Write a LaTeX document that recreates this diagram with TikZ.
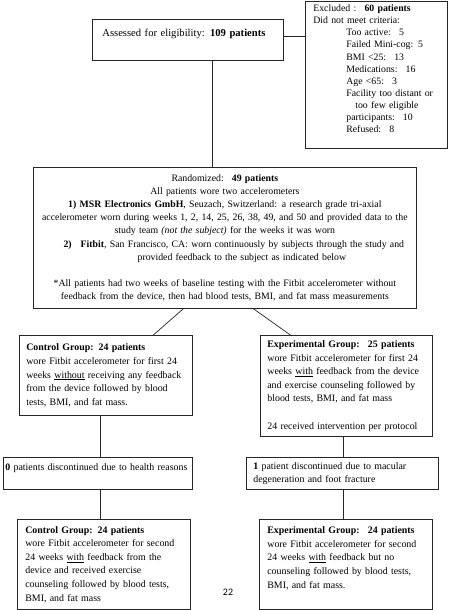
\documentclass[tikz,border=0pt]{standalone}
\usepackage{fontspec}
\setmainfont{Liberation Serif}
\newfontfamily\pagefont{Carlito}
\usetikzlibrary{positioning}

\begin{document}
\begin{tikzpicture}[x=1pt, y=-1pt,
        box/.style={draw=black!85, line width=0.7pt, rectangle, anchor=north west, inner xsep=7pt, inner ysep=1pt, align=left, font=\fontsize{9.9}{13.6}\selectfont},
        cbox/.style={box, align=center, inner xsep=2pt, inner ysep=0pt, font=\fontsize{9.8}{13.2}\selectfont},
        listbox/.style={box, inner xsep=8pt, font=\fontsize{9.8}{12.1}\selectfont},
        dropbox/.style={box, font=\fontsize{9.9}{13.4}\selectfont},
        edge/.style={draw=black!85, line width=0.7pt},
        pagelabel/.style={font=\pagefont\fontsize{10}{12}\selectfont}
    ]
    \useasboundingbox (0,0) rectangle (449,610);

    % Knoten
    \node[box, inner xsep=10pt, text width=171pt, minimum height=41pt, font=\fontsize{10.6}{13.6}\selectfont] (assess) at (92,19) {Assessed for eligibility: \textbf{109 patients}\\ \mbox{}};
    \node[listbox, text width=126pt, minimum height=147pt] (excl) at (305,1) {Excluded :~ \textbf{60 patients}\\
        Did not meet criteria:\\
        \hspace*{33pt}Too active:~ 5\\
        \hspace*{33pt}Failed Mini-cog: 5\\
        \hspace*{33pt}BMI <25:~ 13\\
        \hspace*{33pt}Medications:~ 16\\
        \hspace*{33pt}Age <65:~ 3\\
        \hspace*{33pt}Facility too distant or\\
        \hspace*{42pt}too few eligible\\
        \hspace*{33pt}participants:~ 10\\
        \hspace*{33pt}Refused:~ 8\\ \mbox{}};
    \node[cbox, text width=379pt, minimum height=141pt] (rand) at (33,167) {Randomized:~ \textbf{49 patients}\\
        All patients wore two accelerometers\\
        \textbf{1) MSR Electronics GmbH}, Seuzach, Switzerland: a research grade tri-axial\\
        accelerometer worn during weeks 1, 2, 14, 25, 26, 38, 49, and 50 and provided data to the\\
        study team \textit{(not the subject)} for the weeks it was worn\\
        \hspace*{18pt}\textbf{2)}\hspace{9pt}\textbf{Fitbit}, San Francisco, CA: worn continuously by subjects through the study and\\
        \hspace*{34pt}provided feedback to the subject as indicated below\\ \mbox{}\\
        {*}All patients had two weeks of baseline testing with the Fitbit accelerometer without\\
        feedback from the device, then had blood tests, BMI, and fat mass measurements};
    \node[box, text width=159pt, minimum height=80pt] (ctrlA) at (19,335) {\textbf{Control Group: 24 patients}\\
        wore Fitbit accelerometer for first 24\\
        weeks \underline{without} receiving any feedback\\
        from the device followed by blood\\
        tests, BMI, and fat mass.};
    \node[box, text width=158pt, minimum height=101pt] (expA) at (260,335) {\textbf{Experimental Group:~ 25 patients}\\
        wore Fitbit accelerometer for first 24\\
        weeks \underline{with} feedback from the device\\
        and exercise counseling followed by\\
        blood tests, BMI, and fat mass\\ \mbox{}\\
        24 received intervention per protocol};
    \node[dropbox, inner xsep=2pt, text width=185pt, minimum height=32pt] (ctrlDrop) at (3,457) {\mbox{\textbf{0} patients discontinued due to health reasons}\\ \mbox{}};
    \node[dropbox, text width=178pt, minimum height=32pt] (expDrop) at (246,457) {\textbf{1} patient discontinued due to macular\\
        degeneration and foot fracture};
    \node[box, inner xsep=8pt, text width=157pt, minimum height=90pt] (ctrlB) at (17,519) {\textbf{Control Group: 24 patients}\\
        wore Fitbit accelerometer for second\\
        24 weeks \underline{with} feedback from the\\
        device and received exercise\\
        counseling followed by blood tests,\\
        BMI, and fat mass};
    \node[box, inner xsep=8pt, text width=157pt, minimum height=90pt] (expB) at (259,519) {\textbf{Experimental Group:~ 24 patients}\\
        wore Fitbit accelerometer for second\\
        24 weeks \underline{with} feedback but no\\
        counseling followed by blood tests,\\
        BMI, and fat mass.\\ \mbox{}};
    \node[pagelabel] (pnum) at (228,592) {22};

    % Kanten zwischen Knoten
    \draw[edge] ([yshift=3pt]assess.east) -- ([yshift=3pt]assess.east -| excl.west);
    \draw[edge] ([xshift=24.5pt]assess.south) -- ([xshift=24.5pt]assess.south |- rand.north);
    \draw[edge] ([xshift=-41.5pt]rand.south) -- ([xshift=47.5pt]ctrlA.north);
    \draw[edge] ([xshift=28.5pt]rand.south) -- ([xshift=-56pt]expA.north);
    \draw[edge] ([xshift=-5.5pt]ctrlA.south) -- ([xshift=-5.5pt]ctrlA.south |- ctrlDrop.north);
    \draw[edge] ([xshift=-3pt]expA.south) -- ([xshift=-3pt]expA.south |- expDrop.north);
    \draw[edge] ([xshift=2.5pt]ctrlDrop.south) -- ([xshift=2.5pt]ctrlDrop.south |- ctrlB.north);
    \draw[edge] ([xshift=1pt]expDrop.south) -- ([xshift=1pt]expDrop.south |- expB.north);

\end{tikzpicture}
\end{document}
